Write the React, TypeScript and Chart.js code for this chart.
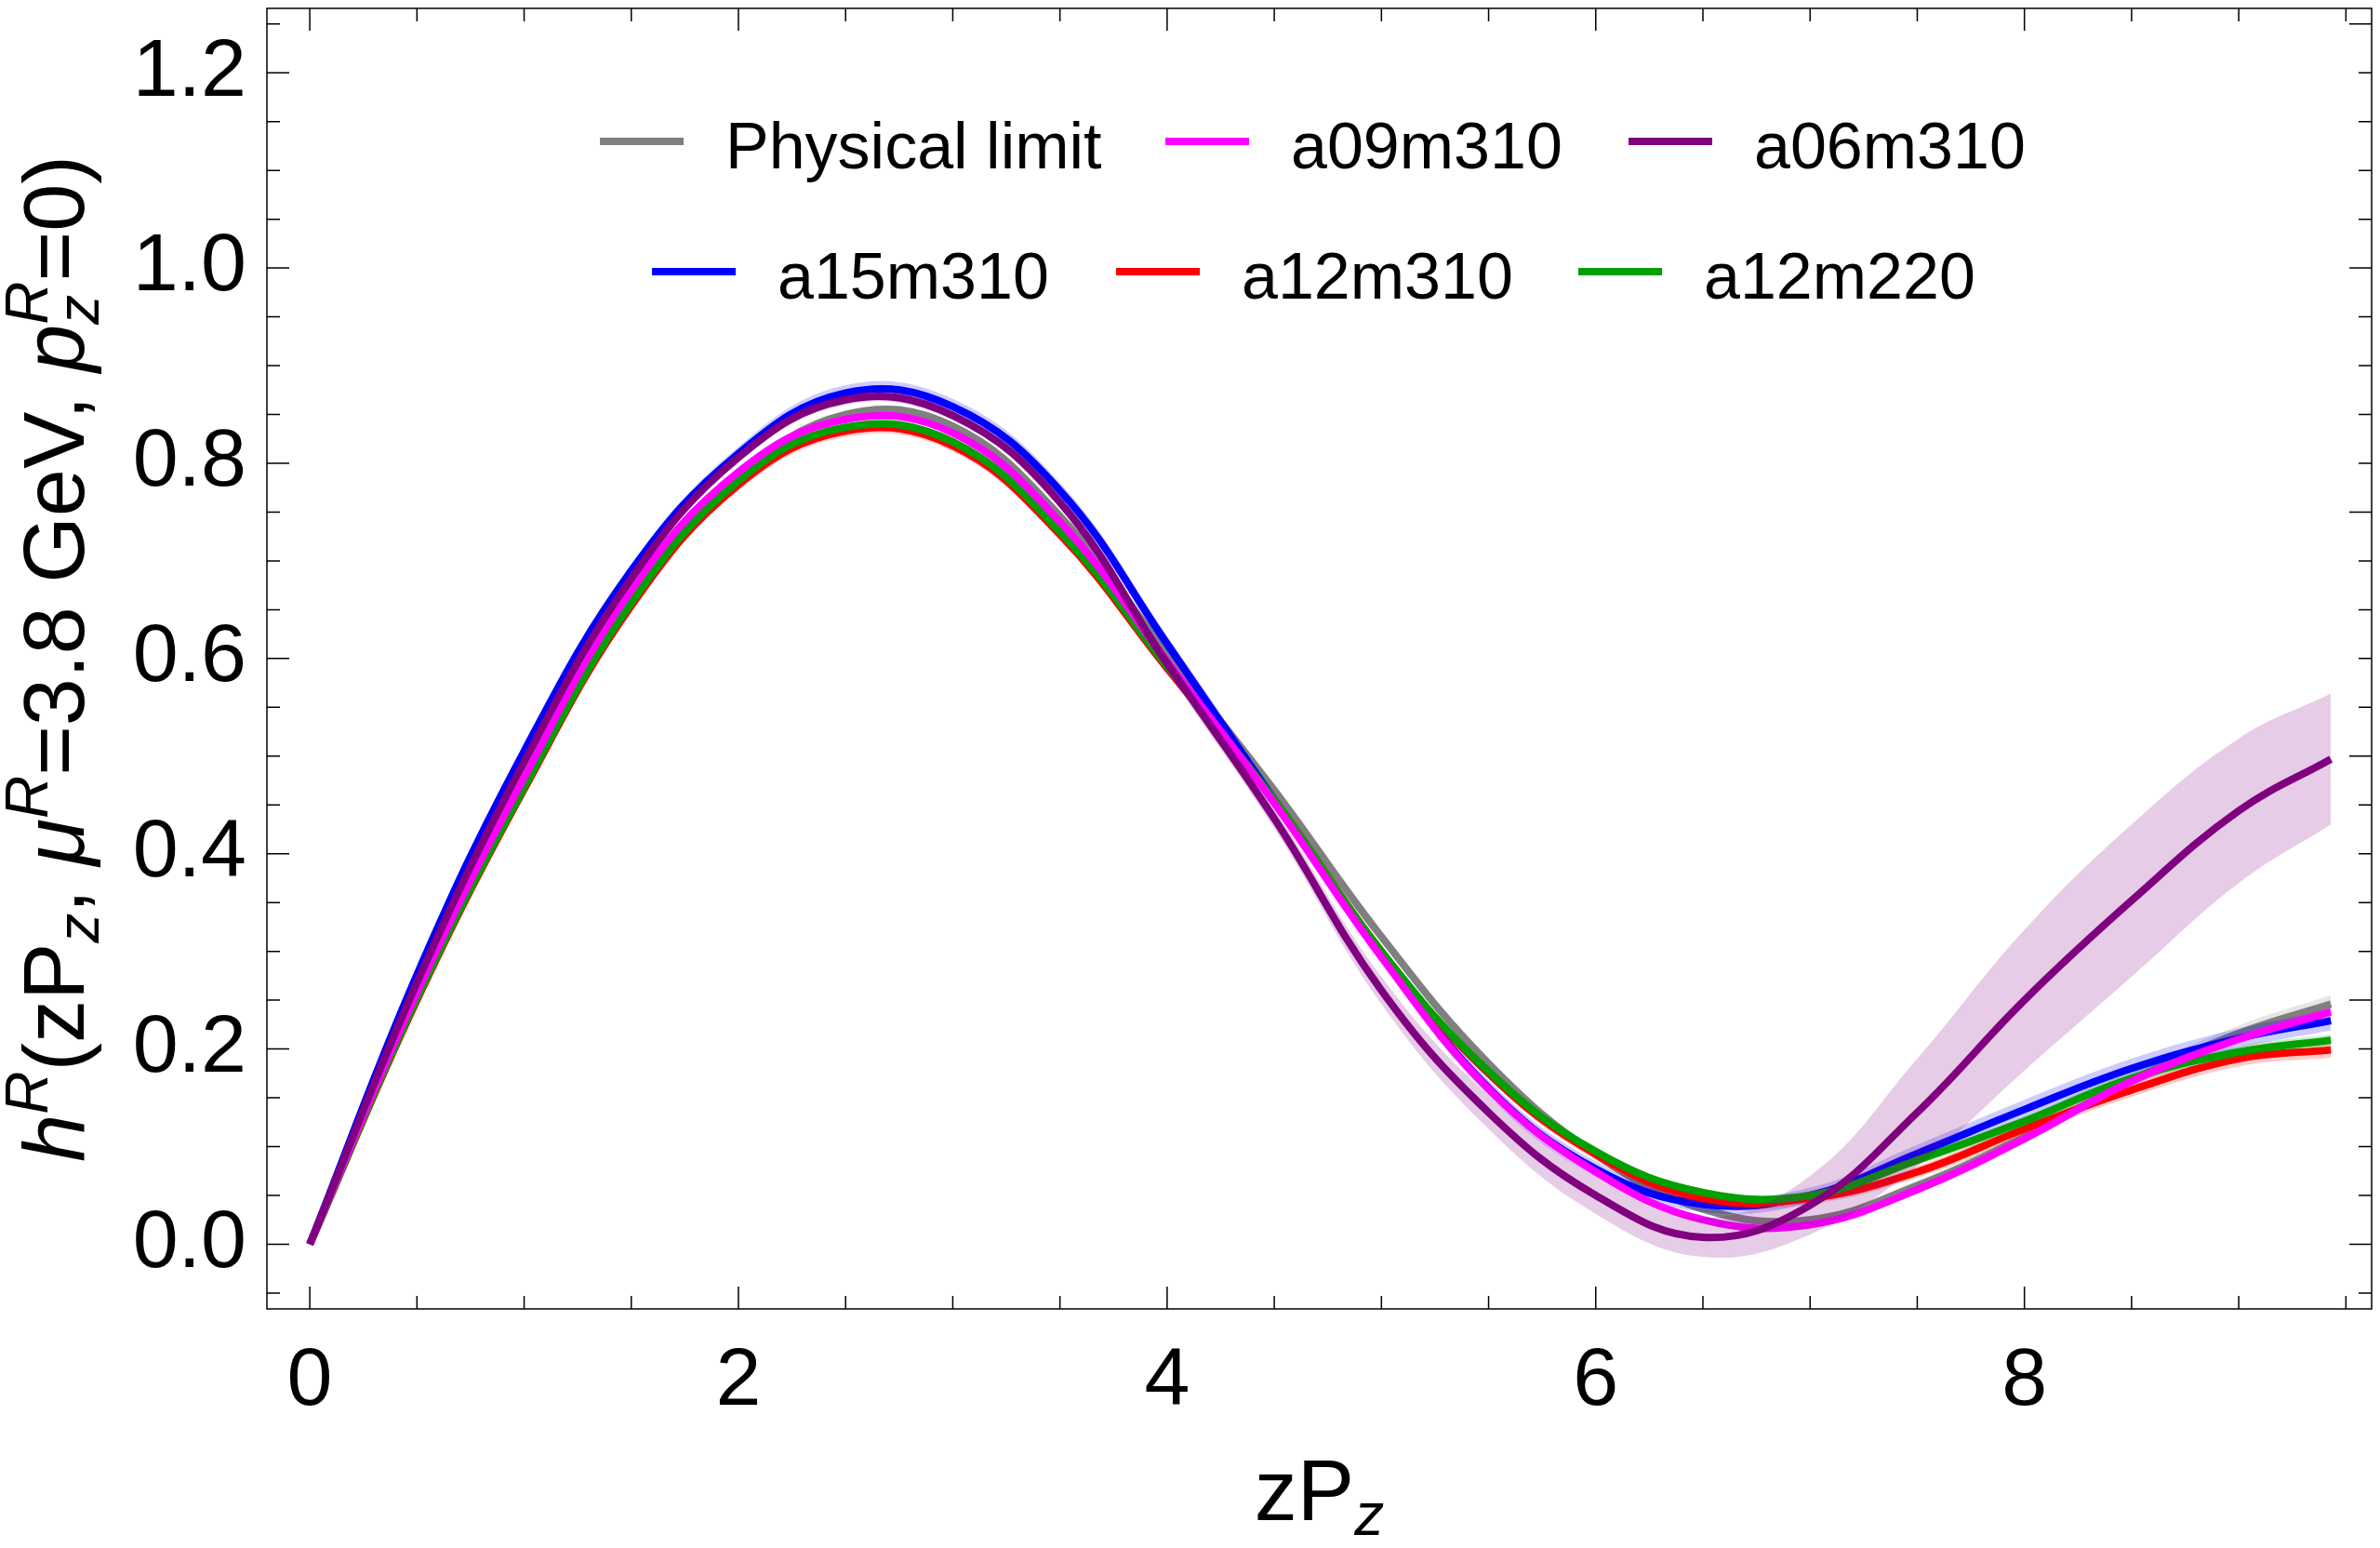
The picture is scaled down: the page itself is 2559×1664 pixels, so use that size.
import React, { useEffect, useRef } from 'react';
import Chart from 'chart.js/auto';

// zP_z sample points shared by every curve
const zPz = [0, 0.5, 1, 1.5, 2, 2.5, 3, 3.5, 4, 4.5, 5, 5.5, 6, 6.5, 7, 7.5, 8, 8.5, 9, 9.43];

const physicalLimit = [0, 0.252, 0.468, 0.657, 0.785, 0.85, 0.838, 0.746, 0.605, 0.465, 0.315, 0.185, 0.092, 0.036, 0.025, 0.06, 0.11, 0.168, 0.216, 0.246];
const physicalLimitErr = [0, 0.002, 0.003, 0.004, 0.004, 0.004, 0.004, 0.004, 0.004, 0.004, 0.004, 0.004, 0.004, 0.004, 0.004, 0.005, 0.006, 0.007, 0.008, 0.009];

const a09m310 = [0, 0.258, 0.478, 0.67, 0.791, 0.845, 0.831, 0.74, 0.597, 0.452, 0.294, 0.159, 0.074, 0.025, 0.02, 0.056, 0.108, 0.167, 0.21, 0.238];
const a09m310Err = [0, 0.002, 0.003, 0.003, 0.003, 0.003, 0.003, 0.003, 0.003, 0.003, 0.003, 0.003, 0.003, 0.003, 0.003, 0.004, 0.004, 0.005, 0.005, 0.006];

const a06m310 = [0, 0.268, 0.494, 0.682, 0.806, 0.865, 0.849, 0.76, 0.595, 0.436, 0.26, 0.135, 0.05, 0.007, 0.04, 0.135, 0.25, 0.352, 0.444, 0.497];
const a06m310Err = [0, 0.002, 0.003, 0.004, 0.005, 0.005, 0.005, 0.006, 0.008, 0.01, 0.014, 0.017, 0.019, 0.02, 0.03, 0.055, 0.072, 0.078, 0.074, 0.067];

const a15m310 = [0, 0.276, 0.505, 0.69, 0.81, 0.872, 0.858, 0.772, 0.615, 0.455, 0.297, 0.16, 0.077, 0.041, 0.05, 0.093, 0.138, 0.18, 0.211, 0.229];
const a15m310Err = [0, 0.003, 0.005, 0.006, 0.007, 0.008, 0.008, 0.008, 0.008, 0.008, 0.008, 0.008, 0.008, 0.008, 0.008, 0.009, 0.01, 0.01, 0.01, 0.01];

const a12m310 = [0, 0.25, 0.466, 0.654, 0.778, 0.833, 0.818, 0.727, 0.59, 0.455, 0.3, 0.175, 0.092, 0.047, 0.047, 0.074, 0.118, 0.158, 0.19, 0.199];
const a12m310Err = [0, 0.002, 0.004, 0.005, 0.006, 0.006, 0.006, 0.006, 0.006, 0.006, 0.006, 0.006, 0.006, 0.006, 0.006, 0.006, 0.007, 0.007, 0.008, 0.008];

const a12m220 = [0, 0.252, 0.468, 0.657, 0.782, 0.837, 0.822, 0.73, 0.592, 0.455, 0.3, 0.177, 0.095, 0.053, 0.05, 0.086, 0.126, 0.17, 0.197, 0.209];
const a12m220Err = [0, 0.002, 0.003, 0.004, 0.004, 0.004, 0.004, 0.004, 0.004, 0.004, 0.004, 0.004, 0.004, 0.004, 0.004, 0.005, 0.005, 0.006, 0.006, 0.006];

const xTickValues = [0, 2, 4, 6, 8];
const yTickValues = [0, 0.2, 0.4, 0.6, 0.8, 1.0, 1.2];

const FONT = '"Liberation Sans", Arial, sans-serif';

const series = [
  { label: 'Physical limit', color: '#808080', band: 'rgba(128,128,128,0.2)', values: physicalLimit, err: physicalLimitErr },
  { label: 'a09m310', color: '#ff00ff', band: 'rgba(255,0,255,0.2)', values: a09m310, err: a09m310Err },
  { label: 'a06m310', color: '#800080', band: 'rgba(128,0,128,0.2)', values: a06m310, err: a06m310Err },
  { label: 'a15m310', color: '#0000ff', band: 'rgba(0,0,255,0.2)', values: a15m310, err: a15m310Err },
  { label: 'a12m310', color: '#ff0000', band: 'rgba(255,0,0,0.2)', values: a12m310, err: a12m310Err },
  { label: 'a12m220', color: '#00a000', band: 'rgba(0,160,0,0.2)', values: a12m220, err: a12m220Err },
];

// bottom to top
const drawOrder = ['Physical limit', 'a15m310', 'a12m310', 'a12m220', 'a09m310', 'a06m310'];

const legendSlots = [
  { label: 'Physical limit', x: 645, y: 152 },
  { label: 'a09m310', x: 1253, y: 152 },
  { label: 'a06m310', x: 1751, y: 152 },
  { label: 'a15m310', x: 701, y: 292 },
  { label: 'a12m310', x: 1200, y: 292 },
  { label: 'a12m220', x: 1697, y: 292 },
];

type Run = { t?: string; it?: boolean; sup?: string; sub?: string };

const yTitle: Run[] = [
  { t: 'h', it: true }, { sup: 'R' }, { t: '(zP' }, { sub: 'z' }, { t: ', ' },
  { t: '\u03bc', it: true }, { sup: 'R' }, { t: '=3.8 GeV, ' },
  { t: 'p', it: true }, { sup: 'R', sub: 'z' }, { t: '=0)' },
];
const xTitle: Run[] = [{ t: 'zP' }, { sub: 'z' }];

const F = 88;   // tick labels
const TF = 92;  // axis titles
const TS = 64;  // scripts in titles

function fontOf(italic: boolean | undefined, size: number) {
  return `${italic ? 'italic ' : ''}${size}px ${FONT}`;
}

function drawRuns(ctx: CanvasRenderingContext2D, runs: Run[], cx: number, baseline: number) {
  const widths = runs.map((r) => {
    if (r.t !== undefined) {
      ctx.font = fontOf(r.it, TF);
      return ctx.measureText(r.t).width;
    }
    ctx.font = fontOf(true, TS);
    return Math.max(r.sup ? ctx.measureText(r.sup).width : 0, r.sub ? ctx.measureText(r.sub).width : 0);
  });
  const total = widths.reduce((a, b) => a + b, 0);
  let x = cx - total / 2;
  ctx.textAlign = 'left';
  ctx.textBaseline = 'alphabetic';
  ctx.fillStyle = '#000';
  runs.forEach((r, i) => {
    if (r.t !== undefined) {
      ctx.font = fontOf(r.it, TF);
      ctx.fillText(r.t, x, baseline);
    } else {
      ctx.font = fontOf(true, TS);
      if (r.sup) ctx.fillText(r.sup, x, baseline - 0.42 * TF);
      if (r.sub) ctx.fillText(r.sub, x, baseline + 0.17 * TF);
    }
    x += widths[i];
  });
}

const decorPlugin = {
  id: 'decor',
  afterDraw(chart: any) {
    const { ctx, chartArea: a, scales } = chart;
    const xs = scales.x;
    const ys = scales.y;
    ctx.save();

    // frame with inward ticks on all sides
    ctx.strokeStyle = '#000';
    ctx.lineWidth = 1.5;
    ctx.strokeRect(a.left, a.top, a.right - a.left, a.bottom - a.top);
    ctx.beginPath();
    for (let k = 0; k <= 19; k++) {
      const px = xs.getPixelForValue(k * 0.5);
      const len = k % 4 === 0 ? 24 : 14;
      ctx.moveTo(px, a.bottom);
      ctx.lineTo(px, a.bottom - len);
      ctx.moveTo(px, a.top);
      ctx.lineTo(px, a.top + len);
    }
    for (let k = -1; k <= 25; k++) {
      const py = ys.getPixelForValue(k * 0.05);
      const lenL = k % 4 === 0 ? 24 : 14;
      const lenR = k % 5 === 0 ? 24 : 14;
      ctx.moveTo(a.left, py);
      ctx.lineTo(a.left + lenL, py);
      ctx.moveTo(a.right, py);
      ctx.lineTo(a.right - lenR, py);
    }
    ctx.stroke();

    // legend
    legendSlots.forEach((slot) => {
      const s = series.find((q) => q.label === slot.label)!;
      ctx.strokeStyle = s.color;
      ctx.lineWidth = 8;
      ctx.lineCap = 'butt';
      ctx.beginPath();
      ctx.moveTo(slot.x, slot.y);
      ctx.lineTo(slot.x + 90, slot.y);
      ctx.stroke();
      ctx.font = `70px ${FONT}`;
      ctx.fillStyle = '#000';
      ctx.textAlign = 'left';
      ctx.textBaseline = 'alphabetic';
      ctx.fillText(s.label, slot.x + 135, slot.y + 29);
    });

    // axis titles
    drawRuns(ctx, xTitle, (a.left + a.right) / 2, 1634);
    ctx.save();
    ctx.translate(90, (a.top + a.bottom) / 2);
    ctx.rotate(-Math.PI / 2);
    drawRuns(ctx, yTitle, 0, 0);
    ctx.restore();

    ctx.restore();
  },
};

export default function App() {
  const canvasRef = useRef<HTMLCanvasElement>(null);
  const chartRef = useRef<Chart | null>(null);

  useEffect(() => {
    if (!canvasRef.current) return;
    if (chartRef.current) chartRef.current.destroy();

    const datasets: any[] = [];
    drawOrder.forEach((name, r) => {
      const s = series.find((q) => q.label === name)!;
      const base = 1000 - r * 10;
      const common = { pointRadius: 0, tension: 0.4, borderJoinStyle: 'round' };
      datasets.push({
        ...common,
        label: s.label + ' lower',
        data: zPz.map((x, i) => ({ x, y: s.values[i] - s.err[i] })),
        borderWidth: 0,
        borderColor: 'rgba(0,0,0,0)',
        fill: false,
        order: base,
      });
      datasets.push({
        ...common,
        label: s.label + ' upper',
        data: zPz.map((x, i) => ({ x, y: s.values[i] + s.err[i] })),
        borderWidth: 0,
        borderColor: 'rgba(0,0,0,0)',
        backgroundColor: s.band,
        fill: '-1',
        order: base - 1,
      });
      datasets.push({
        ...common,
        label: s.label,
        data: zPz.map((x, i) => ({ x, y: s.values[i] })),
        borderColor: s.color,
        borderWidth: 8,
        fill: false,
        order: base - 2,
      });
    });

    chartRef.current = new Chart(canvasRef.current, {
      type: 'line',
      data: { datasets },
      options: {
        responsive: false,
        animation: false,
        events: [],
        layout: { padding: { top: 9, right: 9, left: 0, bottom: 0 } },
        plugins: {
          legend: { display: false },
          tooltip: { enabled: false },
        },
        scales: {
          x: {
            type: 'linear',
            min: -0.2,
            max: 9.62,
            grid: { display: false },
            border: { display: false },
            afterBuildTicks: (s: any) => {
              s.ticks = xTickValues.map((value) => ({ value }));
            },
            afterFit: (s: any) => {
              s.height = 257;
              s.paddingLeft = 0;
              s.paddingRight = 0;
            },
            ticks: {
              color: '#000',
              font: { size: F, family: FONT },
              padding: 18,
              maxRotation: 0,
              autoSkip: false,
              callback: (v: any) => String(v),
            },
          },
          y: {
            type: 'linear',
            min: -0.0663,
            max: 1.266,
            grid: { display: false },
            border: { display: false },
            afterBuildTicks: (s: any) => {
              s.ticks = yTickValues.map((value) => ({ value }));
            },
            afterFit: (s: any) => {
              s.width = 287;
              s.paddingTop = 0;
              s.paddingBottom = 0;
            },
            ticks: {
              color: '#000',
              font: { size: F, family: FONT },
              padding: 14,
              autoSkip: false,
              callback: (v: any) => Number(v).toFixed(1),
            },
          },
        },
      } as any,
      plugins: [decorPlugin],
    });

    return () => {
      if (chartRef.current) chartRef.current.destroy();
      chartRef.current = null;
    };
  }, []);

  return (
    <div style={{ position: 'absolute', left: 0, top: 0, width: 2559, height: 1664, background: '#fff' }}>
      <canvas ref={canvasRef} width={2559} height={1664} style={{ width: 2559, height: 1664 }} />
    </div>
  );
}
